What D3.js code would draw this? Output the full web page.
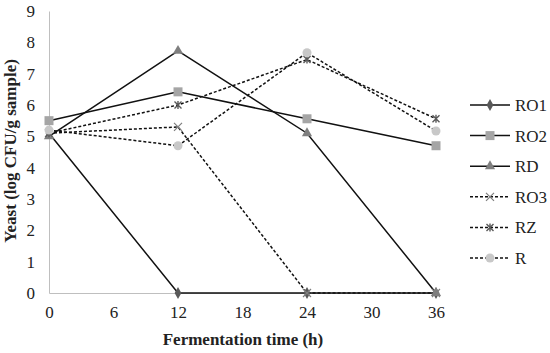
<!DOCTYPE html>
<html>
<head>
<meta charset="utf-8">
<script src="https://cdn.jsdelivr.net/npm/d3@7"></script>
<style>
  body { margin: 0; background: #fff; }
  svg { display: block; font-family: 'Liberation Serif', 'DejaVu Serif', serif; }
</style>
</head>
<body>
<svg id="chart" width="550" height="353"></svg>
<script>
// Data
const hours = [0, 12, 24, 36]
const xTicks = [0, 6, 12, 18, 24, 30, 36]
const yTicks = [0, 1, 2, 3, 4, 5, 6, 7, 8, 9]
const seriesNames = ['RO1', 'RO2', 'RD', 'RO3', 'RZ', 'R']
const ro1 = [5.1, 0, 0, 0]
const ro2 = [5.5, 6.42, 5.56, 4.7]
const rd = [5.0, 7.73, 5.1, 0]
const ro3 = [5.1, 5.3, 0, 0]
const rz = [5.1, 6.0, 7.45, 5.56]
const r = [5.2, 4.7, 7.67, 5.17]

const series = [
  { name: 'RO1', values: ro1, marker: 'diamond', color: '#595959', dash: null },
  { name: 'RO2', values: ro2, marker: 'square', color: '#a5a5a5', dash: null },
  { name: 'RD', values: rd, marker: 'triangle', color: '#7f7f7f', dash: null },
  { name: 'RO3', values: ro3, marker: 'cross', color: '#7f7f7f', dash: '3,2' },
  { name: 'RZ', values: rz, marker: 'star', color: '#595959', dash: '3,2' },
  { name: 'R', values: r, marker: 'circle', color: '#c8c8c8', dash: '3,2' }
]

const svg = d3.select('#chart')
const x = d3.scaleLinear().domain([0, 36]).range([49, 436])
const y = d3.scaleLinear().domain([0, 9]).range([293, 11])

// Axes (no tick marks, light gray domain)
const gx = svg.append('g').attr('transform', 'translate(0,293)')
  .call(d3.axisBottom(x).tickValues(xTicks).tickSize(0).tickPadding(13))
const gy = svg.append('g').attr('transform', 'translate(49,0)')
  .call(d3.axisLeft(y).tickValues(yTicks).tickSize(0).tickPadding(14))
;[gx, gy].forEach(g => {
  g.select('.domain').attr('stroke', '#bfbfbf').attr('stroke-width', 1)
  g.selectAll('text').attr('font-family', "'Liberation Serif', serif")
    .attr('font-size', 17).attr('fill', '#222')
})

svg.append('text')
  .attr('x', 243).attr('y', 345)
  .attr('text-anchor', 'middle')
  .attr('font-weight', 'bold').attr('font-size', 17).attr('fill', '#222')
  .text('Fermentation time (h)')

svg.append('text')
  .attr('transform', 'translate(16,151) rotate(-90)')
  .attr('text-anchor', 'middle')
  .attr('font-weight', 'bold').attr('font-size', 17).attr('fill', '#222')
  .text('Yeast (log CFU/g sample)')

function drawMarker (g, type, color, cx, cy) {
  if (type === 'diamond') {
    g.append('path').attr('d', d3.symbol(d3.symbolDiamond, 40)()).attr('transform', `translate(${cx},${cy})`).attr('fill', color)
  } else if (type === 'square') {
    g.append('rect').attr('x', cx - 4.5).attr('y', cy - 4.5).attr('width', 9).attr('height', 9).attr('fill', color)
  } else if (type === 'triangle') {
    g.append('path').attr('d', d3.symbol(d3.symbolTriangle, 45)()).attr('transform', `translate(${cx},${cy})`).attr('fill', color)
  } else if (type === 'circle') {
    g.append('circle').attr('cx', cx).attr('cy', cy).attr('r', 4.5).attr('fill', color)
  } else if (type === 'cross') {
    g.append('path').attr('d', `M${cx - 4},${cy - 4}L${cx + 4},${cy + 4}M${cx - 4},${cy + 4}L${cx + 4},${cy - 4}`)
      .attr('stroke', color).attr('stroke-width', 1.2)
  } else if (type === 'star') {
    g.append('path').attr('d', `M${cx - 3.5},${cy - 3.5}L${cx + 3.5},${cy + 3.5}M${cx - 3.5},${cy + 3.5}L${cx + 3.5},${cy - 3.5}M${cx},${cy - 4}L${cx},${cy + 4}`)
      .attr('stroke', color).attr('stroke-width', 1.4)
  }
}

const line = d3.line().x((d, i) => x(hours[i])).y(d => y(d))
const plot = svg.append('g')
series.forEach(s => {
  plot.append('path')
    .datum(s.values)
    .attr('d', line)
    .attr('fill', 'none')
    .attr('stroke', '#111')
    .attr('stroke-width', 1.5)
    .attr('stroke-dasharray', s.dash)
})
series.forEach(s => {
  s.values.forEach((v, i) => drawMarker(plot, s.marker, s.color, x(hours[i]), y(v)))
})

// Legend
const legend = svg.append('g')
series.forEach((s, i) => {
  const ly = 105 + i * 30.6
  legend.append('line')
    .attr('x1', 470).attr('x2', 510).attr('y1', ly).attr('y2', ly)
    .attr('stroke', '#111').attr('stroke-width', 1.5)
    .attr('stroke-dasharray', s.dash)
  drawMarker(legend, s.marker, s.color, 490, ly)
  legend.append('text')
    .attr('x', 515).attr('y', ly + 6)
    .attr('font-size', 17).attr('fill', '#222')
    .text(seriesNames[i])
})
</script>
</body>
</html>
